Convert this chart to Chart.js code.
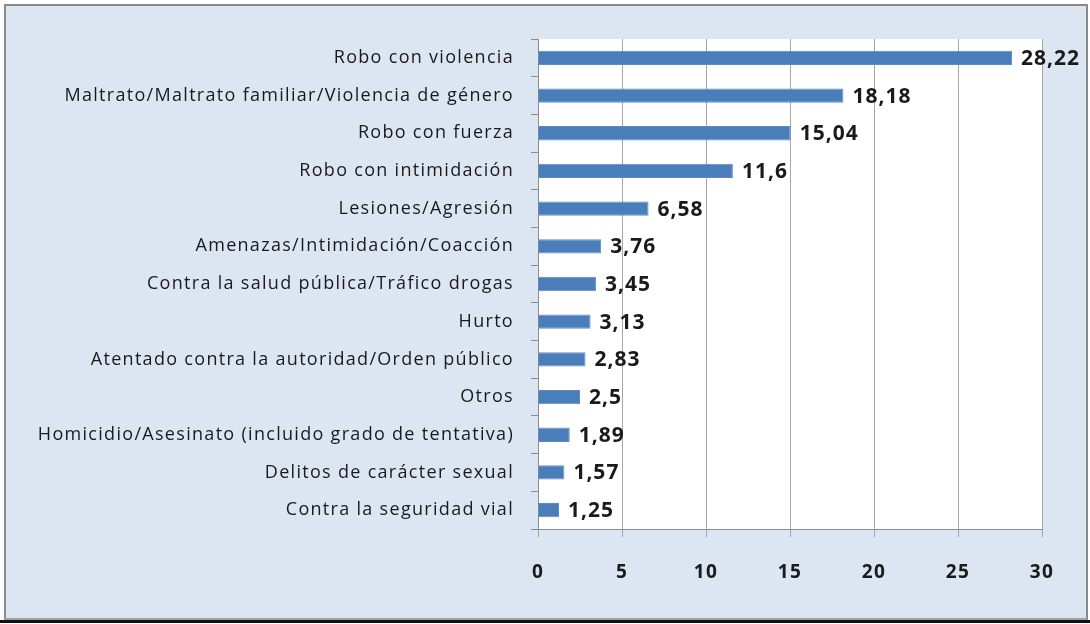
<!DOCTYPE html>
<html>
<head>
<meta charset="utf-8">
<script src="https://cdn.jsdelivr.net/npm/chart.js@4/dist/chart.umd.min.js"></script>
<style>
  html, body { margin: 0; padding: 0; background: #ffffff; }
  #frame {
    position: absolute; left: 4px; top: 4px; width: 1080px; height: 612px;
    background: #dce6f2; border: 2px solid #8a8a8a; border-bottom-color: #a0a0a0;
  }
  #bottomLine { position: absolute; left: 0; top: 620px; width: 1090px; height: 3px; background: #111; }
  #wrap { position: absolute; left: 0; top: 0; width: 1090px; height: 624px; }
</style>
</head>
<body>
<div id="frame"></div>
<div id="bottomLine"></div>
<div id="wrap"><canvas id="delitosChart"></canvas></div>
<script>
var categories = [
  "Robo con violencia",
  "Maltrato/Maltrato familiar/Violencia de género",
  "Robo con fuerza",
  "Robo con intimidación",
  "Lesiones/Agresión",
  "Amenazas/Intimidación/Coacción",
  "Contra la salud pública/Tráfico drogas",
  "Hurto",
  "Atentado contra la autoridad/Orden público",
  "Otros",
  "Homicidio/Asesinato (incluido grado de tentativa)",
  "Delitos de carácter sexual",
  "Contra la seguridad vial"
];
var values = [28.22, 18.18, 15.04, 11.6, 6.58, 3.76, 3.45, 3.13, 2.83, 2.5, 1.89, 1.57, 1.25];
var xTicks = [0, 5, 10, 15, 20, 25, 30];

var FONT = "'Open Sans', Lato, sans-serif";

function fmtComma(v) {
  return String(v).replace(".", ",");
}

// fondo blanco del area de trazado + espaciado de letras
var plotBg = {
  id: "plotBg",
  beforeDraw: function (chart) {
    var a = chart.chartArea;
    var ctx = chart.ctx;
    ctx.fillStyle = "#ffffff";
    ctx.fillRect(a.left, a.top, a.right - a.left, a.bottom - a.top);
    ctx.letterSpacing = "1.3px";
  }
};

// etiquetas de valor al final de cada barra
var valueLabels = {
  id: "valueLabels",
  afterDatasetsDraw: function (chart) {
    var ctx = chart.ctx;
    var meta = chart.getDatasetMeta(0);
    ctx.save();
    ctx.letterSpacing = "1px";
    ctx.font = "bold 21px " + FONT;
    ctx.fillStyle = "#1a1a1a";
    ctx.textAlign = "left";
    ctx.textBaseline = "middle";
    for (var i = 0; i < meta.data.length; i++) {
      var bar = meta.data[i];
      ctx.fillText(fmtComma(values[i]), bar.x + 9, bar.y + 1);
    }
    ctx.restore();
  }
};

var el = document.getElementById("delitosChart");
new Chart(el, {
  type: "bar",
  data: {
    labels: categories,
    datasets: [{
      data: values,
      backgroundColor: "#4a7ebb",
      borderColor: "#5d8cc4",
      borderWidth: 1,
      categoryPercentage: 0.38,
      barPercentage: 1.0
    }]
  },
  options: {
    indexAxis: "y",
    responsive: true,
    maintainAspectRatio: false,
    animation: false,
    layout: { padding: { left: 0, top: 39, right: 48, bottom: 0 } },
    plugins: {
      legend: { display: false },
      tooltip: { enabled: false }
    },
    scales: {
      x: {
        min: 0,
        max: 30,
        afterBuildTicks: function (scale) {
          scale.ticks = xTicks.map(function (v) { return { value: v }; });
        },
        afterFit: function (scale) { scale.height = 95; },
        grid: { color: "#a6a6a6", lineWidth: 1, tickLength: 8, drawOnChartArea: true },
        border: { color: "#8c8c8c", width: 1 },
        ticks: {
          color: "#1a1a1a",
          padding: 24,
          font: { family: FONT, size: 19, weight: "bold" }
        }
      },
      y: {
        afterFit: function (scale) { scale.width = 538; },
        grid: { drawOnChartArea: false, offset: true, tickLength: 7, color: "#8c8c8c" },
        border: { color: "#8c8c8c", width: 1 },
        ticks: {
          color: "#1a1a1a",
          padding: 17,
          font: { family: FONT, size: 18 }
        }
      }
    }
  },
  plugins: [plotBg, valueLabels]
});
</script>
</body>
</html>
